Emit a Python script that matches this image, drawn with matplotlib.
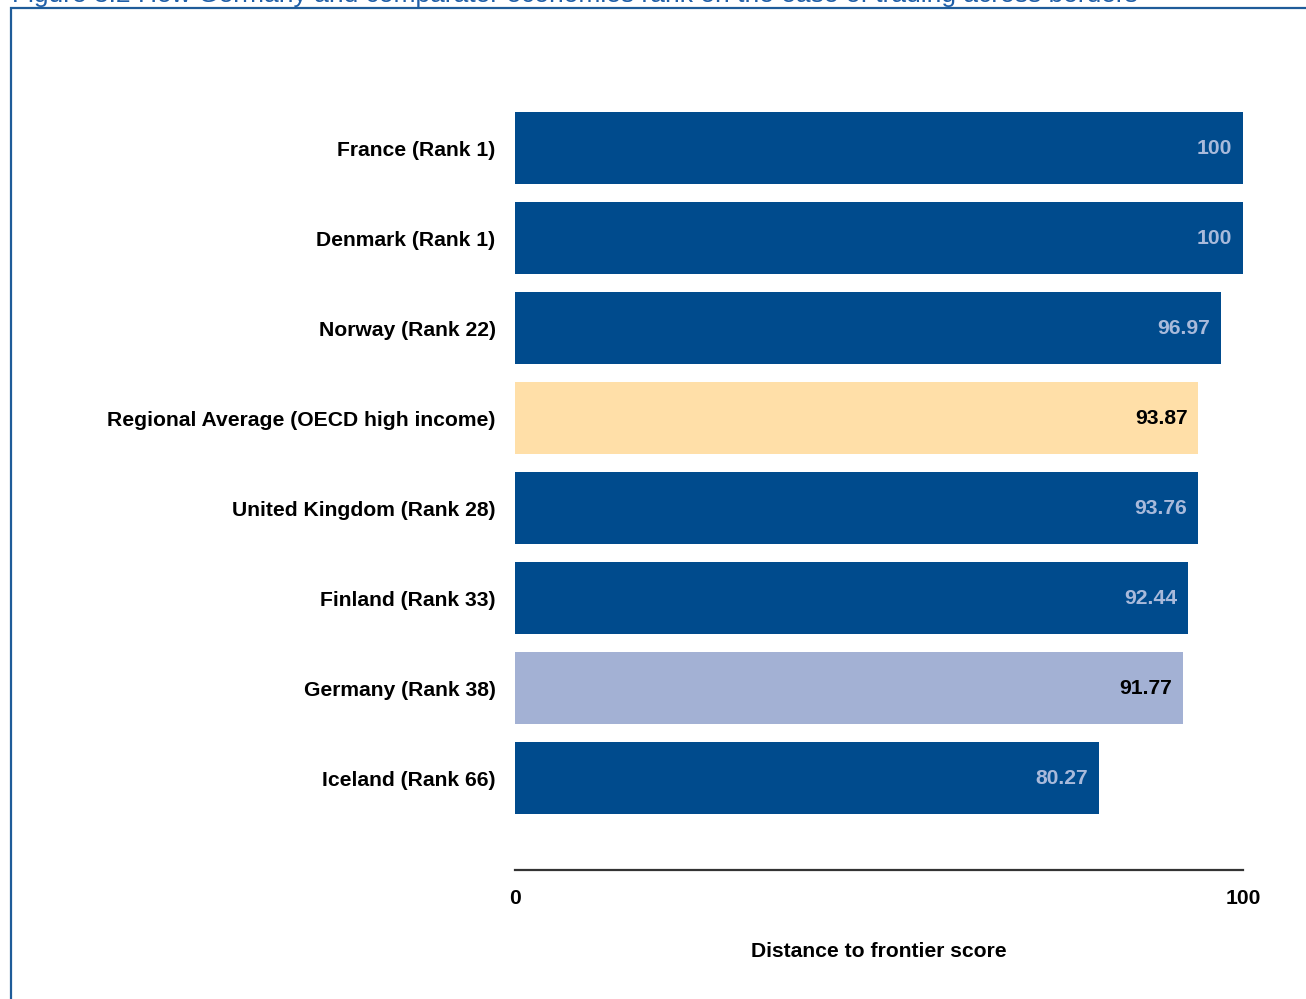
import matplotlib
matplotlib.use("Agg")
import matplotlib.pyplot as plt
from matplotlib.patches import Rectangle

labels = ["France (Rank 1)", "Denmark (Rank 1)", "Norway (Rank 22)",
          "Regional Average (OECD high income)", "United Kingdom (Rank 28)",
          "Finland (Rank 33)", "Germany (Rank 38)", "Iceland (Rank 66)"]
scores = [100, 100, 96.97, 93.87, 93.76, 92.44, 91.77, 80.27]
value_text = ["100", "100", "96.97", "93.87", "93.76", "92.44", "91.77", "80.27"]
kinds = ["peer", "peer", "peer", "region", "peer", "peer", "focus", "peer"]

bar_col = {"peer": "#004B8D", "region": "#FFDFA8", "focus": "#A3B1D4"}
txt_col = {"peer": "#A9BADB", "region": "#000000", "focus": "#000000"}

W, H = 1306, 999
FS = 15.2
plt.rcParams["font.family"] = ["Liberation Sans", "DejaVu Sans"]
fig = plt.figure(figsize=(W / 100, H / 100), dpi=100)

# frame + caption clipped by the top edge (as in the source page)
fig.patches.append(Rectangle((11 / W, -0.05), 1.2, 1 - 8 / H + 0.05,
                             transform=fig.transFigure, fill=False,
                             edgecolor="#1F5C99", lw=1.6, zorder=0))
fig.text(12 / W, 1 - 2 / H,
         "Figure 3.2 How Germany and comparator economies rank on the ease "
         "of trading across borders",
         color="#1F5FA8", fontsize=19, va="baseline", ha="left")

ax = fig.add_axes([515 / W, 1 - 870 / H, 728 / W, (870 - 58) / H])
ypos = list(range(len(labels)))
for y, s, k, t in zip(ypos, scores, kinds, value_text):
    ax.barh(y, s, height=0.8, color=bar_col[k], edgecolor="none")
    ax.text(s - 1.5, y, t, ha="right", va="center", fontsize=FS,
            fontweight="bold", color=txt_col[k])

ax.set_ylim(8.02, -1)
ax.set_xlim(0, 100)
ax.set_yticks(ypos)
ax.set_yticklabels(labels, fontsize=FS, fontweight="bold")
ax.set_xticks([0, 100])
ax.set_xticklabels(["0", "100"], fontsize=FS, fontweight="bold")
ax.tick_params(axis="y", length=0, pad=14)
ax.tick_params(axis="x", length=0, pad=14)
for sp in ("top", "right", "left"):
    ax.spines[sp].set_visible(False)
ax.spines["bottom"].set_color("#333333")
ax.spines["bottom"].set_linewidth(1.6)
ax.set_xlabel("Distance to frontier score", fontsize=FS,
              fontweight="bold", labelpad=24)

fig.savefig("out.png", dpi=100)
